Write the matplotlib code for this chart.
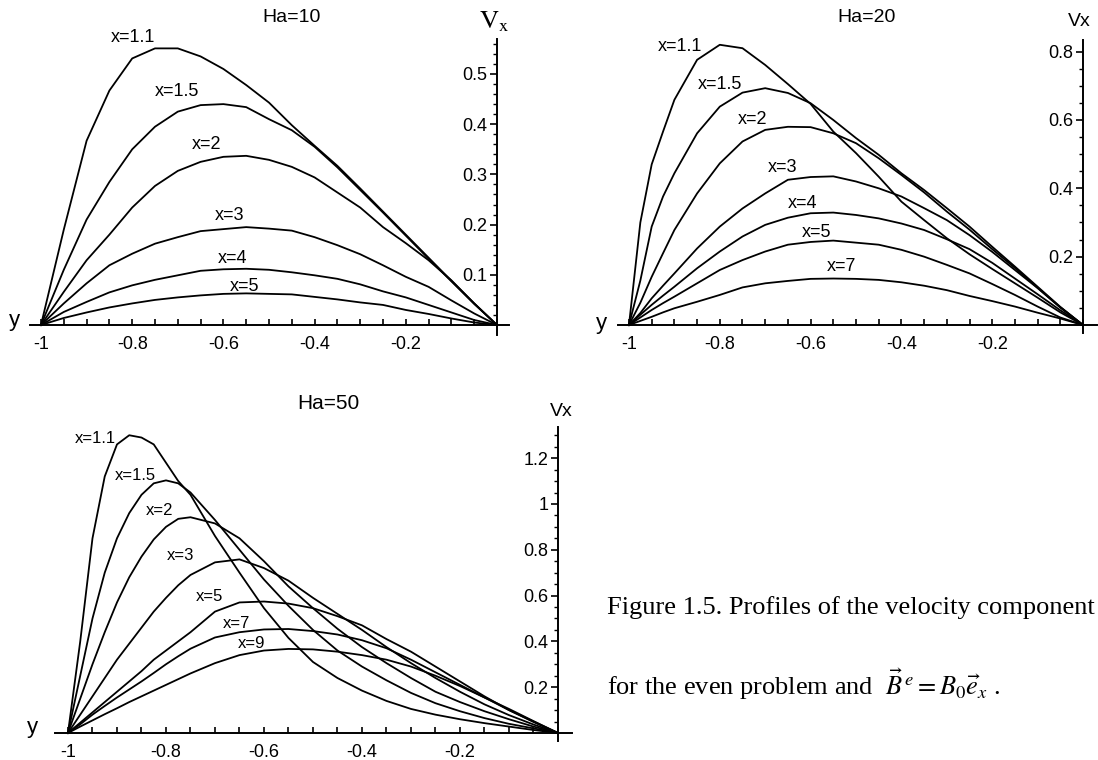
import matplotlib
matplotlib.use('Agg')
from matplotlib import pyplot as plt
import numpy as np

plt.rcParams['font.family'] = ['Liberation Sans', 'DejaVu Sans']
plt.rcParams['mathtext.fontset'] = 'stix'

W, H = 1098, 760

# Ha=10 profiles
y10 = [-1, -0.95, -0.9, -0.85, -0.8, -0.75, -0.7, -0.65, -0.6, -0.55, -0.5,
       -0.45, -0.4, -0.35, -0.3, -0.25, -0.2, -0.15, -0.1, -0.05, 0]
ha10_x11 = [0, 0.19, 0.367, 0.467, 0.531, 0.551, 0.551, 0.535, 0.51, 0.478, 0.443,
            0.398, 0.357, 0.317, 0.272, 0.226, 0.18, 0.134, 0.088, 0.043, 0]
ha10_x15 = [0, 0.11, 0.21, 0.285, 0.35, 0.395, 0.425, 0.438, 0.44, 0.434, 0.41,
            0.388, 0.355, 0.314, 0.269, 0.224, 0.178, 0.132, 0.087, 0.042, 0]
ha10_x2 = [0, 0.066, 0.129, 0.18, 0.234, 0.277, 0.307, 0.325, 0.335, 0.337, 0.329,
           0.315, 0.294, 0.264, 0.234, 0.195, 0.163, 0.129, 0.089, 0.043, 0]
ha10_x3 = [0, 0.043, 0.083, 0.119, 0.142, 0.162, 0.175, 0.187, 0.191, 0.195, 0.192,
           0.188, 0.175, 0.159, 0.141, 0.119, 0.096, 0.076, 0.049, 0.023, 0]
ha10_x4 = [0, 0.026, 0.046, 0.065, 0.079, 0.09, 0.099, 0.108, 0.111, 0.112, 0.11,
           0.105, 0.099, 0.092, 0.081, 0.067, 0.055, 0.04, 0.025, 0.01, 0]
ha10_x5 = [0, 0.014, 0.025, 0.035, 0.043, 0.05, 0.055, 0.059, 0.062, 0.063, 0.062,
           0.061, 0.056, 0.051, 0.045, 0.04, 0.03, 0.022, 0.013, 0.005, 0]
ha10_names = ['x=1.1', 'x=1.5', 'x=2', 'x=3', 'x=4', 'x=5']
ha10_label_pos = [(-0.798, 0.572), (-0.702, 0.466), (-0.636, 0.359),
                  (-0.586, 0.219), (-0.579, 0.133), (-0.553, 0.076)]

# Ha=20 profiles
y20 = [-1, -0.975, -0.95, -0.925, -0.9, -0.85, -0.8, -0.75, -0.7, -0.65, -0.6, -0.55,
       -0.5, -0.45, -0.4, -0.35, -0.3, -0.25, -0.2, -0.15, -0.1, -0.05, 0]
ha20_x11 = [0, 0.30, 0.47, 0.566, 0.659, 0.776, 0.82, 0.81, 0.761, 0.705, 0.647, 0.566,
            0.503, 0.434, 0.361, 0.307, 0.254, 0.207, 0.164, 0.122, 0.08, 0.037, 0]
ha20_x15 = [0, 0.13, 0.288, 0.376, 0.444, 0.561, 0.639, 0.68, 0.693, 0.679, 0.649, 0.60,
            0.547, 0.498, 0.444, 0.395, 0.342, 0.288, 0.229, 0.171, 0.112, 0.053, 0]
ha20_x2 = [0, 0.065, 0.141, 0.21, 0.278, 0.385, 0.473, 0.537, 0.571, 0.58, 0.579, 0.561,
           0.532, 0.488, 0.439, 0.388, 0.332, 0.279, 0.222, 0.167, 0.109, 0.052, 0]
ha20_x3 = [0, 0.035, 0.078, 0.115, 0.151, 0.224, 0.288, 0.341, 0.385, 0.425, 0.433, 0.435,
           0.42, 0.4, 0.376, 0.342, 0.307, 0.263, 0.214, 0.161, 0.108, 0.051, 0]
ha20_x4 = [0, 0.03, 0.059, 0.086, 0.112, 0.166, 0.215, 0.259, 0.293, 0.314, 0.327, 0.329,
           0.322, 0.312, 0.297, 0.278, 0.251, 0.222, 0.182, 0.136, 0.09, 0.043, 0]
ha20_x5 = [0, 0.022, 0.044, 0.064, 0.083, 0.122, 0.161, 0.19, 0.215, 0.235, 0.243, 0.247,
           0.241, 0.235, 0.22, 0.2, 0.176, 0.151, 0.12, 0.088, 0.054, 0.022, 0]
ha20_x7 = [0, 0.012, 0.024, 0.037, 0.049, 0.068, 0.088, 0.11, 0.122, 0.129, 0.135, 0.136,
           0.135, 0.132, 0.125, 0.115, 0.102, 0.085, 0.07, 0.054, 0.036, 0.019, 0]
ha20_names = ['x=1.1', 'x=1.5', 'x=2', 'x=3', 'x=4', 'x=5', 'x=7']
ha20_label_pos = [(-0.888, 0.814), (-0.80, 0.703), (-0.727, 0.60), (-0.661, 0.46),
                  (-0.617, 0.357), (-0.586, 0.272), (-0.531, 0.17)]

# Ha=50 profiles
y50 = [-1, -0.975, -0.95, -0.925, -0.9, -0.875, -0.85, -0.825, -0.8, -0.775, -0.75,
       -0.7, -0.65, -0.6, -0.55, -0.5, -0.45, -0.4, -0.35, -0.3, -0.25, -0.2, -0.15,
       -0.1, -0.05, 0]
ha50_x11 = [0, 0.40, 0.85, 1.12, 1.26, 1.30, 1.29, 1.26, 1.18, 1.10, 1.04,
            0.86, 0.70, 0.545, 0.415, 0.31, 0.24, 0.185, 0.14, 0.105, 0.08, 0.06, 0.043,
            0.028, 0.013, 0]
ha50_x15 = [0, 0.25, 0.50, 0.70, 0.85, 0.96, 1.04, 1.09, 1.103, 1.09, 1.05,
            0.93, 0.80, 0.67, 0.555, 0.45, 0.36, 0.29, 0.23, 0.175, 0.13, 0.095, 0.065,
            0.04, 0.02, 0]
ha50_x2 = [0, 0.15, 0.30, 0.44, 0.57, 0.68, 0.77, 0.845, 0.90, 0.935, 0.942,
           0.915, 0.85, 0.75, 0.64, 0.545, 0.455, 0.375, 0.305, 0.24, 0.18, 0.135, 0.095,
           0.06, 0.028, 0]
ha50_x3 = [0, 0.08, 0.16, 0.24, 0.32, 0.39, 0.46, 0.53, 0.59, 0.645, 0.69,
           0.745, 0.758, 0.72, 0.665, 0.59, 0.52, 0.45, 0.375, 0.305, 0.24, 0.18, 0.125,
           0.078, 0.037, 0]
ha50_x5 = [0, 0.045, 0.09, 0.135, 0.18, 0.225, 0.27, 0.32, 0.36, 0.40, 0.44,
           0.53, 0.57, 0.574, 0.565, 0.545, 0.51, 0.47, 0.41, 0.355, 0.29, 0.225, 0.16,
           0.10, 0.048, 0]
ha50_x7 = [0, 0.038, 0.08, 0.118, 0.155, 0.19, 0.225, 0.262, 0.30, 0.335, 0.368,
           0.417, 0.44, 0.452, 0.454, 0.445, 0.43, 0.405, 0.37, 0.32, 0.265, 0.21, 0.155,
           0.10, 0.05, 0]
ha50_x9 = [0, 0.028, 0.055, 0.082, 0.108, 0.135, 0.16, 0.185, 0.21, 0.235, 0.26,
           0.305, 0.34, 0.36, 0.367, 0.365, 0.355, 0.34, 0.32, 0.29, 0.25, 0.205, 0.155,
           0.105, 0.052, 0]
ha50_names = ['x=1.1', 'x=1.5', 'x=2', 'x=3', 'x=5', 'x=7', 'x=9']
ha50_label_pos = [(-0.945, 1.287), (-0.862, 1.125), (-0.814, 0.971), (-0.77, 0.777),
                  (-0.712, 0.594), (-0.656, 0.478), (-0.625, 0.391)]

xtick_vals = [-1, -0.8, -0.6, -0.4, -0.2]
xtick_text = ['-1', '-0.8', '-0.6', '-0.4', '-0.2']


def px_box(left, right, top, bottom):
    return [left / W, 1 - bottom / H, (right - left) / W, (bottom - top) / H]


def make_panel(fig, box, xlim, ylim, yticks, ylabels, yminor):
    ax = fig.add_axes(box)
    ax.set_xlim(*xlim)
    ax.set_ylim(*ylim)
    ax.patch.set_alpha(0)
    ax.spines['top'].set_visible(False)
    ax.spines['right'].set_visible(False)
    ax.spines['bottom'].set_position(('data', 0))
    ax.spines['left'].set_position(('data', 0))
    for s in ('bottom', 'left'):
        ax.spines[s].set_linewidth(1.4)
    ax.set_xticks(xtick_vals)
    ax.set_xticklabels(xtick_text)
    ax.set_xticks(np.arange(-0.95, 0.001, 0.05), minor=True)
    ax.set_yticks(yticks)
    ax.set_yticklabels(ylabels)
    ax.set_yticks(yminor, minor=True)
    ax.tick_params(axis='x', which='both', direction='in', length=4, width=1.2,
                   pad=8, labelsize=13)
    ax.tick_params(axis='y', which='major', direction='out', length=5, width=1.2,
                   pad=2, labelsize=13)
    ax.tick_params(axis='y', which='minor', direction='out', length=3, width=1.0)
    return ax


def draw(ax, y, curves, names, label_pos, fs=13):
    for v in curves:
        ax.plot(y, v, color='black', lw=1.3, clip_on=False)
    for name, (lx, ly) in zip(names, label_pos):
        ax.text(lx, ly, name, ha='center', va='center', fontsize=fs, clip_on=False)


fig = plt.figure(figsize=(W / 100, H / 100), dpi=100)

# Ha = 10
ax1 = make_panel(fig, px_box(30, 509, 39, 335), (-1.0241, 0.0263), (-0.0199, 0.5697),
                 [0.1, 0.2, 0.3, 0.4, 0.5], ['0.1', '0.2', '0.3', '0.4', '0.5'],
                 np.arange(0.02, 0.57, 0.02))
draw(ax1, y10, [ha10_x11, ha10_x15, ha10_x2, ha10_x3, ha10_x4, ha10_x5],
     ha10_names, ha10_label_pos)
fig.text(292 / W, 1 - 18 / H, 'Ha=10', ha='center', va='center', fontsize=14)
fig.text(494 / W, 1 - 22 / H, r'$\mathrm{V}_{\mathrm{x}}$', ha='center', va='center',
         fontsize=19)
fig.text(14 / W, 1 - 321 / H, 'y', ha='center', va='center', fontsize=16)

# Ha = 20
ax2 = make_panel(fig, px_box(618, 1097, 40, 333), (-1.0242, 0.0308), (-0.0234, 0.834),
                 [0.2, 0.4, 0.6, 0.8], ['0.2', '0.4', '0.6', '0.8'],
                 np.arange(0.05, 0.83, 0.05))
draw(ax2, y20, [ha20_x11, ha20_x15, ha20_x2, ha20_x3, ha20_x4, ha20_x5, ha20_x7],
     ha20_names, ha20_label_pos)
fig.text(867 / W, 1 - 18 / H, 'Ha=20', ha='center', va='center', fontsize=14)
fig.text(1079 / W, 1 - 21 / H, 'Vx', ha='center', va='center', fontsize=14)
fig.text(601 / W, 1 - 323 / H, 'y', ha='center', va='center', fontsize=16)

# Ha = 50
ax3 = make_panel(fig, px_box(55, 572, 427, 741), (-1.0265, 0.0286), (-0.035, 1.336),
                 [0.2, 0.4, 0.6, 0.8, 1.0, 1.2], ['0.2', '0.4', '0.6', '0.8', '1', '1.2'],
                 np.arange(0.05, 1.33, 0.05))
draw(ax3, y50, [ha50_x11, ha50_x15, ha50_x2, ha50_x3, ha50_x5, ha50_x7, ha50_x9],
     ha50_names, ha50_label_pos, fs=12)
fig.text(328 / W, 1 - 403 / H, 'Ha=50', ha='center', va='center', fontsize=15)
fig.text(561 / W, 1 - 412 / H, 'Vx', ha='center', va='center', fontsize=14)
fig.text(32 / W, 1 - 727 / H, 'y', ha='center', va='center', fontsize=16)

# caption
fig.text(607 / W, 1 - 608 / H, 'Figure 1.5. Profiles of the velocity component',
         family='Liberation Serif', fontsize=19, ha='left', va='center')
fig.text(607 / W, 1 - 684 / H,
         r'for the even problem and  $\vec{B}^{\,e} = B_0\vec{e}_x$ .',
         family='Liberation Serif', fontsize=19, ha='left', va='center')

fig.savefig('out.png', dpi=100)
